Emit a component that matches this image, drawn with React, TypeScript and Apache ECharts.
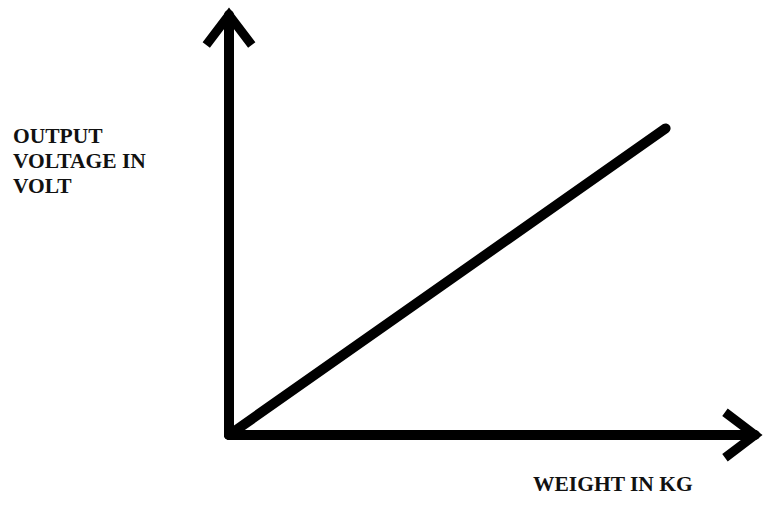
import React, { useEffect, useRef } from "react";
import * as echarts from "echarts";

// Data: weight (kg) vs output voltage (V) — a straight proportional line
const weights = [0, 83];
const voltages = [0, 73];
const xLabel = "WEIGHT IN KG";
const yLabelLines = ["OUTPUT", "VOLTAGE IN", "VOLT"];

// Open chevron arrow (pointing up), drawn as a filled outline
const chevron =
  "path://M29,0 L58,38.3 L50,44.3 L29,16.6 L8,44.3 L0,38.3 Z";

export default function App() {
  const ref = useRef<HTMLDivElement>(null);
  useEffect(() => {
    if (!ref.current) return;
    const chart = echarts.init(ref.current, undefined, { renderer: "svg" });
    const axisLine = {
      show: true,
      symbol: ["none", chevron],
      symbolSize: [52.8, 40.3],
      symbolOffset: [0, -12.6],
      lineStyle: { color: "#000", width: 10, cap: "round" },
    };
    chart.setOption({
      animation: false,
      backgroundColor: "#fff",
      grid: { left: 229, right: 10, top: 15, bottom: 72, outerBoundsMode: "none" },
      xAxis: {
        type: "value",
        min: 0,
        max: 100,
        axisLine,
        axisTick: { show: false },
        axisLabel: { show: false },
        splitLine: { show: false },
      },
      yAxis: {
        type: "value",
        min: 0,
        max: 100,
        axisLine,
        axisTick: { show: false },
        axisLabel: { show: false },
        splitLine: { show: false },
      },
      series: [
        {
          type: "line",
          data: weights.map((w, i) => [w, voltages[i]]),
          showSymbol: false,
          symbol: "none",
          clip: false,
          lineStyle: { color: "#000", width: 10, cap: "round" },
        },
      ],
      graphic: [
        {
          type: "text",
          left: 13,
          top: 123,
          style: {
            text: yLabelLines.join("\n"),
            font: "bold 21.5px 'Liberation Serif', serif",
            lineHeight: 25,
            fill: "#111",
          },
        },
        {
          type: "text",
          left: 533,
          top: 473,
          style: {
            text: xLabel,
            font: "bold 21.5px 'Liberation Serif', serif",
            fill: "#111",
          },
        },
      ],
    });
    return () => chart.dispose();
  }, []);
  return (
    <div
      ref={ref}
      style={{ position: "fixed", left: 0, top: 0, width: 765, height: 507 }}
    />
  );
}
